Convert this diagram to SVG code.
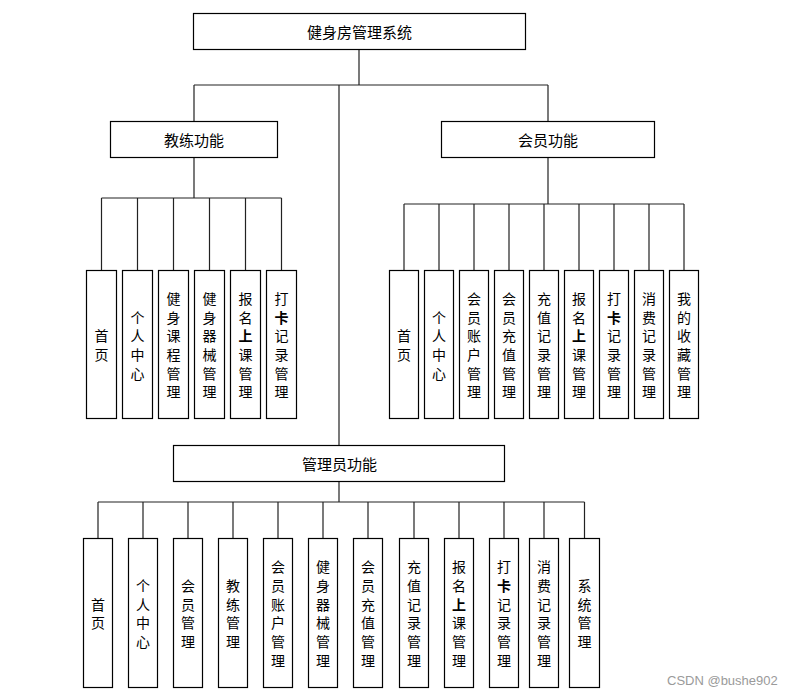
<svg xmlns="http://www.w3.org/2000/svg" width="796" height="695" viewBox="0 0 796 695">
<style>
.box{fill:#fff;stroke:#000;stroke-width:1.2}
.ln{fill:none;stroke:#222;stroke-width:1.2}
.h{font-family:"Noto Sans CJK SC","Noto Sans",sans-serif;font-size:15px;fill:#000;text-anchor:middle;dominant-baseline:central}
.v{font-family:"Noto Sans CJK SC","Noto Sans",sans-serif;font-size:14px;fill:#000;text-anchor:middle;dominant-baseline:central}
.wm{font-family:"Liberation Sans",Arial,sans-serif;font-size:13px;fill:#9a9a9a}
</style>
<rect width="796" height="695" fill="#fff"/>
<g id="connectors">
<path class="ln" d="M359 49V85M194 85H548M194 85V121M548 85V121M339 85V445"/>
<path class="ln" d="M194 157V198M101.5 198H281.5M101.5 198V270M137.5 198V270M173.5 198V270M209.5 198V270M245.5 198V270M281.5 198V270"/>
<path class="ln" d="M548 157V204M404 204H684M404 204V270M439 204V270M474 204V270M509 204V270M544 204V270M579 204V270M614 204V270M649 204V270M684 204V270"/>
<path class="ln" d="M339 481V502M98 502H584.5M98 502V538M143 502V538M188 502V538M233 502V538M278 502V538M323 502V538M368 502V538M414 502V538M459 502V538M504 502V538M544 502V538M584.5 502V538"/>
</g>
<g id="root"><rect class="box" x="193.5" y="13.5" width="332" height="36"/><text class="h" x="359.5" y="31.5">健身房管理系统</text></g>
<g id="coach"><rect class="box" x="110.5" y="121.5" width="167" height="36"/><text class="h" x="194" y="139">教练功能</text></g>
<g id="member"><rect class="box" x="441.5" y="121.5" width="213" height="36"/><text class="h" x="548" y="139">会员功能</text></g>
<g id="admin"><rect class="box" x="173.5" y="445.5" width="331" height="36"/><text class="h" x="339.5" y="463">管理员功能</text></g>

<g id="c1"><rect class="box" x="86.5" y="270.5" width="30" height="148"/><text class="v"><tspan x="101.5" y="335.2">首</tspan><tspan x="101.5" y="353.9">页</tspan></text></g>
<g id="c2"><rect class="box" x="122.5" y="270.5" width="30" height="148"/><text class="v"><tspan x="137.5" y="316.5">个</tspan><tspan x="137.5" y="335.2">人</tspan><tspan x="137.5" y="353.9">中</tspan><tspan x="137.5" y="372.6">心</tspan></text></g>
<g id="c3"><rect class="box" x="158.5" y="270.5" width="30" height="148"/><text class="v"><tspan x="173.5" y="297.8">健</tspan><tspan x="173.5" y="316.5">身</tspan><tspan x="173.5" y="335.2">课</tspan><tspan x="173.5" y="353.9">程</tspan><tspan x="173.5" y="372.6">管</tspan><tspan x="173.5" y="391.3">理</tspan></text></g>
<g id="c4"><rect class="box" x="194.5" y="270.5" width="30" height="148"/><text class="v"><tspan x="209.5" y="297.8">健</tspan><tspan x="209.5" y="316.5">身</tspan><tspan x="209.5" y="335.2">器</tspan><tspan x="209.5" y="353.9">械</tspan><tspan x="209.5" y="372.6">管</tspan><tspan x="209.5" y="391.3">理</tspan></text></g>
<g id="c5"><rect class="box" x="230.5" y="270.5" width="30" height="148"/><text class="v"><tspan x="245.5" y="297.8">报</tspan><tspan x="245.5" y="316.5">名</tspan><tspan x="245.5" y="335.2" font-weight="bold">上</tspan><tspan x="245.5" y="353.9">课</tspan><tspan x="245.5" y="372.6">管</tspan><tspan x="245.5" y="391.3">理</tspan></text></g>
<g id="c6"><rect class="box" x="266.5" y="270.5" width="30" height="148"/><text class="v"><tspan x="281.5" y="297.8">打</tspan><tspan x="281.5" y="316.5" font-weight="bold">卡</tspan><tspan x="281.5" y="335.2">记</tspan><tspan x="281.5" y="353.9">录</tspan><tspan x="281.5" y="372.6">管</tspan><tspan x="281.5" y="391.3">理</tspan></text></g>

<g id="m1"><rect class="box" x="389.5" y="270.5" width="29" height="148"/><text class="v"><tspan x="404" y="335.2">首</tspan><tspan x="404" y="353.9">页</tspan></text></g>
<g id="m2"><rect class="box" x="424.5" y="270.5" width="29" height="148"/><text class="v"><tspan x="439" y="316.5">个</tspan><tspan x="439" y="335.2">人</tspan><tspan x="439" y="353.9">中</tspan><tspan x="439" y="372.6">心</tspan></text></g>
<g id="m3"><rect class="box" x="459.5" y="270.5" width="29" height="148"/><text class="v"><tspan x="474" y="297.8">会</tspan><tspan x="474" y="316.5">员</tspan><tspan x="474" y="335.2">账</tspan><tspan x="474" y="353.9">户</tspan><tspan x="474" y="372.6">管</tspan><tspan x="474" y="391.3">理</tspan></text></g>
<g id="m4"><rect class="box" x="494.5" y="270.5" width="29" height="148"/><text class="v"><tspan x="509" y="297.8">会</tspan><tspan x="509" y="316.5">员</tspan><tspan x="509" y="335.2">充</tspan><tspan x="509" y="353.9">值</tspan><tspan x="509" y="372.6">管</tspan><tspan x="509" y="391.3">理</tspan></text></g>
<g id="m5"><rect class="box" x="529.5" y="270.5" width="29" height="148"/><text class="v"><tspan x="544" y="297.8">充</tspan><tspan x="544" y="316.5">值</tspan><tspan x="544" y="335.2">记</tspan><tspan x="544" y="353.9">录</tspan><tspan x="544" y="372.6">管</tspan><tspan x="544" y="391.3">理</tspan></text></g>
<g id="m6"><rect class="box" x="564.5" y="270.5" width="29" height="148"/><text class="v"><tspan x="579" y="297.8">报</tspan><tspan x="579" y="316.5">名</tspan><tspan x="579" y="335.2" font-weight="bold">上</tspan><tspan x="579" y="353.9">课</tspan><tspan x="579" y="372.6">管</tspan><tspan x="579" y="391.3">理</tspan></text></g>
<g id="m7"><rect class="box" x="599.5" y="270.5" width="29" height="148"/><text class="v"><tspan x="614" y="297.8">打</tspan><tspan x="614" y="316.5" font-weight="bold">卡</tspan><tspan x="614" y="335.2">记</tspan><tspan x="614" y="353.9">录</tspan><tspan x="614" y="372.6">管</tspan><tspan x="614" y="391.3">理</tspan></text></g>
<g id="m8"><rect class="box" x="634.5" y="270.5" width="29" height="148"/><text class="v"><tspan x="649" y="297.8">消</tspan><tspan x="649" y="316.5">费</tspan><tspan x="649" y="335.2">记</tspan><tspan x="649" y="353.9">录</tspan><tspan x="649" y="372.6">管</tspan><tspan x="649" y="391.3">理</tspan></text></g>
<g id="m9"><rect class="box" x="669.5" y="270.5" width="29" height="148"/><text class="v"><tspan x="684" y="297.8">我</tspan><tspan x="684" y="316.5">的</tspan><tspan x="684" y="335.2">收</tspan><tspan x="684" y="353.9">藏</tspan><tspan x="684" y="372.6">管</tspan><tspan x="684" y="391.3">理</tspan></text></g>

<g id="a1"><rect class="box" x="83.5" y="538.5" width="29" height="149"/><text class="v"><tspan x="98" y="603.7">首</tspan><tspan x="98" y="622.4">页</tspan></text></g>
<g id="a2"><rect class="box" x="128.5" y="538.5" width="29" height="149"/><text class="v"><tspan x="143" y="585">个</tspan><tspan x="143" y="603.7">人</tspan><tspan x="143" y="622.4">中</tspan><tspan x="143" y="641.1">心</tspan></text></g>
<g id="a3"><rect class="box" x="173.5" y="538.5" width="29" height="149"/><text class="v"><tspan x="188" y="585">会</tspan><tspan x="188" y="603.7">员</tspan><tspan x="188" y="622.4">管</tspan><tspan x="188" y="641.1">理</tspan></text></g>
<g id="a4"><rect class="box" x="218.5" y="538.5" width="29" height="149"/><text class="v"><tspan x="233" y="585">教</tspan><tspan x="233" y="603.7">练</tspan><tspan x="233" y="622.4">管</tspan><tspan x="233" y="641.1">理</tspan></text></g>
<g id="a5"><rect class="box" x="263.5" y="538.5" width="29" height="149"/><text class="v"><tspan x="278" y="566.3">会</tspan><tspan x="278" y="585">员</tspan><tspan x="278" y="603.7">账</tspan><tspan x="278" y="622.4">户</tspan><tspan x="278" y="641.1">管</tspan><tspan x="278" y="659.8">理</tspan></text></g>
<g id="a6"><rect class="box" x="308.5" y="538.5" width="29" height="149"/><text class="v"><tspan x="323" y="566.3">健</tspan><tspan x="323" y="585">身</tspan><tspan x="323" y="603.7">器</tspan><tspan x="323" y="622.4">械</tspan><tspan x="323" y="641.1">管</tspan><tspan x="323" y="659.8">理</tspan></text></g>
<g id="a7"><rect class="box" x="353.5" y="538.5" width="29" height="149"/><text class="v"><tspan x="368" y="566.3">会</tspan><tspan x="368" y="585">员</tspan><tspan x="368" y="603.7">充</tspan><tspan x="368" y="622.4">值</tspan><tspan x="368" y="641.1">管</tspan><tspan x="368" y="659.8">理</tspan></text></g>
<g id="a8"><rect class="box" x="399.5" y="538.5" width="29" height="149"/><text class="v"><tspan x="414" y="566.3">充</tspan><tspan x="414" y="585">值</tspan><tspan x="414" y="603.7">记</tspan><tspan x="414" y="622.4">录</tspan><tspan x="414" y="641.1">管</tspan><tspan x="414" y="659.8">理</tspan></text></g>
<g id="a9"><rect class="box" x="444.5" y="538.5" width="29" height="149"/><text class="v"><tspan x="459" y="566.3">报</tspan><tspan x="459" y="585">名</tspan><tspan x="459" y="603.7" font-weight="bold">上</tspan><tspan x="459" y="622.4">课</tspan><tspan x="459" y="641.1">管</tspan><tspan x="459" y="659.8">理</tspan></text></g>
<g id="a10"><rect class="box" x="489.5" y="538.5" width="29" height="149"/><text class="v"><tspan x="504" y="566.3">打</tspan><tspan x="504" y="585" font-weight="bold">卡</tspan><tspan x="504" y="603.7">记</tspan><tspan x="504" y="622.4">录</tspan><tspan x="504" y="641.1">管</tspan><tspan x="504" y="659.8">理</tspan></text></g>
<g id="a11"><rect class="box" x="529.5" y="538.5" width="29" height="149"/><text class="v"><tspan x="544" y="566.3">消</tspan><tspan x="544" y="585">费</tspan><tspan x="544" y="603.7">记</tspan><tspan x="544" y="622.4">录</tspan><tspan x="544" y="641.1">管</tspan><tspan x="544" y="659.8">理</tspan></text></g>
<g id="a12"><rect class="box" x="569.5" y="538.5" width="30" height="149"/><text class="v"><tspan x="584.5" y="585">系</tspan><tspan x="584.5" y="603.7">统</tspan><tspan x="584.5" y="622.4">管</tspan><tspan x="584.5" y="641.1">理</tspan></text></g>

<text class="wm" x="667" y="685">CSDN @bushe902</text>
</svg>
